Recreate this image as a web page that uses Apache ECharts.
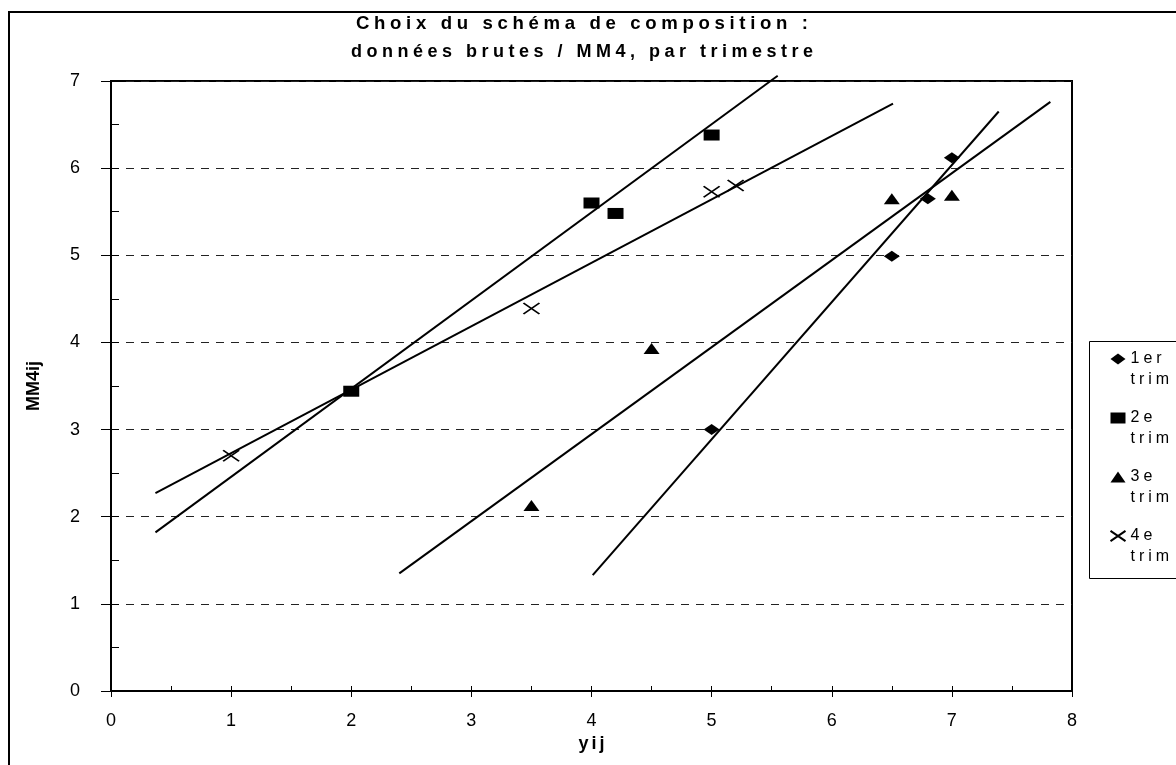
<!DOCTYPE html>
<html><head><meta charset="utf-8">
<script src="https://cdn.jsdelivr.net/npm/echarts@6/dist/echarts.min.js"></script>
<style>html,body{margin:0;padding:0;background:#fff}#c{width:1176px;height:765px}</style>
</head><body><div id="c"></div>
<script>
const titleLines = ['Choix du schéma de composition :', 'données brutes / MM4, par trimestre'];
const xAxisTitle = 'yij';
const yAxisTitle = 'MM4ij';
const seriesNames = ['1er trim', '2e trim', '3e trim', '4e trim'];
// observed points (x = yij, y = MM4ij)
const trim1 = [[5, 3.00], [6.5, 4.99], [6.8, 5.65], [7, 6.12]];
const trim2 = [[2, 3.44], [4, 5.60], [4.2, 5.48], [5, 6.38]];
const trim3 = [[3.5, 2.13], [4.5, 3.93], [6.5, 5.65], [7, 5.69]];
const trim4 = [[1, 2.70], [3.5, 4.39], [5, 5.73], [5.2, 5.80]];
// trend line end points
const trend1 = [[4.01, 1.33], [7.39, 6.65]];
const trend2 = [[0.37, 1.82], [5.55, 7.06]];
const trend3 = [[2.40, 1.35], [7.82, 6.76]];
const trend4 = [[0.37, 2.27], [6.51, 6.74]];
const xMin = 0, xMax = 8, xStep = 1;
const yMin = 0, yMax = 7, yStep = 1;

const FONT = "'Liberation Sans', Arial, sans-serif";
const sp = (s, g) => Array.from(s).join(g || '\u2005');

const chart = echarts.init(document.getElementById('c'), null, {renderer: 'canvas'});

const scatterBase = {
  type: 'scatter', symbolSize: [16, 11], symbolKeepAspect: false,
  itemStyle: {color: '#000', borderColor: '#000', borderWidth: 0, opacity: 1},
  z: 4, silent: true
};
const trendBase = {
  type: 'line', symbol: 'none', showSymbol: false, silent: true, clip: false,
  lineStyle: {color: '#000', width: 2}, z: 3
};
const tickStyle = {color: '#000', width: 1};

const option = {
  animation: false,
  backgroundColor: '#fff',
  title: {
    text: '{a|' + sp(titleLines[0]) + '}\n{b|' + sp(titleLines[1]) + '}',
    left: 577, top: 5, textAlign: 'center',
    textStyle: {
      fontFamily: FONT, fontSize: 18, fontWeight: 'bold', color: '#000', lineHeight: 28,
      rich: {
        a: {fontFamily: FONT, fontSize: 18.6, fontWeight: 'bold', color: '#000', lineHeight: 28},
        b: {fontFamily: FONT, fontSize: 18, fontWeight: 'bold', color: '#000', lineHeight: 28}
      }
    }
  },
  graphic: [{
    type: 'rect', silent: true, z: -10,
    shape: {x: 9, y: 12, width: 1300, height: 900},
    style: {fill: 'none', stroke: '#000', lineWidth: 2}
  }, {
    type: 'rect', silent: true, z: -10,
    shape: {x: 1089.5, y: 341.5, width: 200, height: 237},
    style: {fill: 'none', stroke: '#000', lineWidth: 1}
  }],
  legend: {
    data: seriesNames, orient: 'vertical', left: 1108, top: 359 - 31.5,
    itemWidth: 15, itemHeight: 11, itemGap: -4,
    padding: 0, borderWidth: 0,
    selectedMode: false,
    formatter: n => '\n' + n.split(' ').map(w => sp(w)).join('\n'),
    textStyle: {fontFamily: FONT, fontSize: 16, color: '#000', lineHeight: 21}
  },
  grid: {
    left: 111, top: 81, right: 1176 - 1072, bottom: 765 - 691,
    show: true, borderColor: '#000', borderWidth: 2, backgroundColor: 'transparent'
  },
  xAxis: [{
    type: 'value', min: xMin, max: xMax, interval: xStep, position: 'bottom',
    name: sp(xAxisTitle, '\u2006'), nameLocation: 'middle', nameGap: 35,
    nameTextStyle: {fontFamily: FONT, fontSize: 18, fontWeight: 'bold', color: '#000'},
    axisLine: {show: true, onZero: false, lineStyle: {color: '#000', width: 2}},
    axisTick: {show: true, inside: true, length: 5, lineStyle: tickStyle},
    minorTick: {show: true, splitNumber: 2, length: 5, lineStyle: tickStyle},
    axisLabel: {margin: 21, fontFamily: FONT, fontSize: 18, color: '#000'},
    splitLine: {show: false}, minorSplitLine: {show: false}
  }, {
    type: 'value', min: xMin, max: xMax, interval: xStep, position: 'bottom',
    axisLine: {show: false}, axisTick: {show: true, length: 6, lineStyle: tickStyle},
    axisLabel: {show: false}, splitLine: {show: false}
  }],
  yAxis: [{
    type: 'value', min: yMin, max: yMax, interval: yStep, position: 'left',
    name: yAxisTitle, nameLocation: 'middle', nameGap: 68, nameRotate: 90,
    nameTextStyle: {fontFamily: FONT, fontSize: 18, fontWeight: 'bold', color: '#000'},
    axisLine: {show: true, onZero: false, lineStyle: {color: '#000', width: 2}},
    axisTick: {show: true, inside: true, length: 8, lineStyle: tickStyle},
    minorTick: {show: true, splitNumber: 2, length: 8, lineStyle: tickStyle},
    axisLabel: {margin: 31, fontFamily: FONT, fontSize: 18, color: '#000'},
    splitLine: {show: true, lineStyle: {color: '#222', width: 1, type: [8, 7]}},
    minorSplitLine: {show: false}
  }, {
    type: 'value', min: yMin, max: yMax, interval: yStep, position: 'left',
    axisLine: {show: false}, axisTick: {show: true, length: 10, lineStyle: tickStyle},
    axisLabel: {show: false}, splitLine: {show: false}
  }],
  series: [
    Object.assign({}, scatterBase, {name: seriesNames[0], data: trim1, symbol: 'diamond'}),
    Object.assign({}, scatterBase, {name: seriesNames[1], data: trim2, symbol: 'rect'}),
    Object.assign({}, scatterBase, {name: seriesNames[2], data: trim3, symbol: 'triangle'}),
    Object.assign({}, scatterBase, {name: seriesNames[3], data: trim4,
      symbol: 'path://M0,0L16,11M16,0L0,11',
      itemStyle: {color: 'none', borderColor: '#000', borderWidth: 1.6, opacity: 1}}),
    Object.assign({}, trendBase, {name: 'Tendance ' + seriesNames[0], data: trend1}),
    Object.assign({}, trendBase, {name: 'Tendance ' + seriesNames[1], data: trend2}),
    Object.assign({}, trendBase, {name: 'Tendance ' + seriesNames[2], data: trend3}),
    Object.assign({}, trendBase, {name: 'Tendance ' + seriesNames[3], data: trend4})
  ]
};
chart.setOption(option);
</script>
</body></html>
